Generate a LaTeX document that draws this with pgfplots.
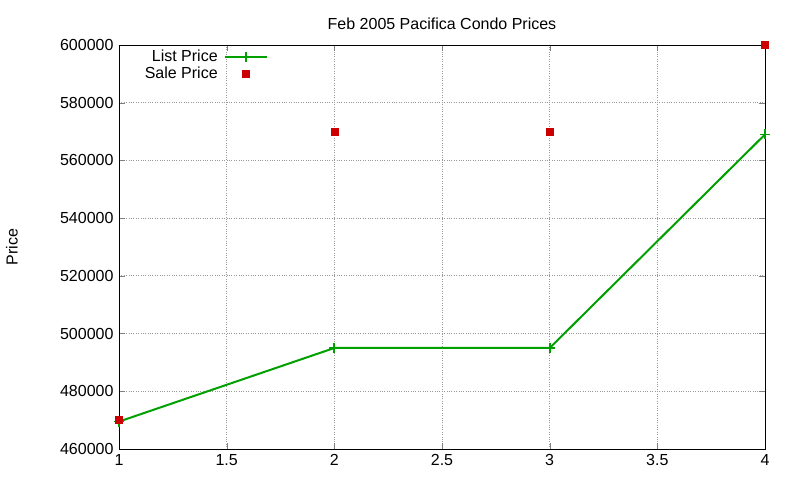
\documentclass[border=0pt]{standalone}
\usepackage{fontspec}
\setmainfont{Liberation Sans}
\usepackage{pgfplots}
\pgfplotsset{compat=1.18}
\definecolor{listgreen}{RGB}{0,160,0}
\definecolor{salered}{RGB}{204,0,0}
\pgfplotsset{
    listleg/.style={legend image code/.code={
        \draw[mark repeat=2, mark phase=2, ##1] plot coordinates {(0bp,0bp) (21bp,0bp) (42bp,0bp)};
    }},
    saleleg/.style={legend image code/.code={
        \draw[##1] plot coordinates {(21bp,0bp)};
    }},
}
\begin{document}
\fontsize{16bp}{18bp}\selectfont
\begin{tikzpicture}
\begin{axis}[
    at={(0,0)}, anchor=south west,
    scale only axis,
    width=646bp, height=404bp,
    xmin=1, xmax=4,
    ymin=460000, ymax=600000,
    xtick={1,1.5,2,2.5,3,3.5,4},
    ytick={460000,480000,...,600000},
    scaled ticks=false,
    /pgf/number format/assume math mode=true,
    /pgf/number format/.cd, fixed, set thousands separator={}, /pgfplots/.cd,
    tick align=inside,
    tick pos=both,
    major tick length=6bp,
    axis line style={black, line width=0.9pt},
    grid=major,
    major grid style={gray!80, dotted, line width=0.8pt},
    tick label style={font=\fontsize{16bp}{18bp}\selectfont},
    title={Feb 2005 Pacifica Condo Prices},
    title style={font=\fontsize{16bp}{18bp}\selectfont, yshift=4bp},
    ylabel={Price},
    ylabel style={font=\fontsize{16bp}{18bp}\selectfont,
        at={(axis description cs:-0.1656,0.5)}, anchor=center},
    legend style={draw=none, fill=none, at={(axis description cs:0.232,0.996)}, anchor=north east,
        font=\fontsize{16bp}{16bp}\selectfont, row sep=-1bp, inner sep=1bp,
        column sep=4bp},
    legend cell align=right,
    legend plot pos=right,
    clip=false,
]
\addplot[listgreen, line width=2bp, mark=+, mark size=5bp, mark options={line width=1.8bp}, listleg]
    coordinates {
    (1,469500) (2,495000) (3,495000) (4,569000)
};
\addlegendentry{List Price}
\addplot[only marks, mark=square*, mark size=3.5bp, color=salered, saleleg] coordinates {
    (1,470000) (2,570000) (3,570000) (4,600000)
};
\addlegendentry{Sale Price}
\end{axis}
\useasboundingbox (-119bp,-31bp) rectangle (681bp,449bp);
\end{tikzpicture}
\end{document}
